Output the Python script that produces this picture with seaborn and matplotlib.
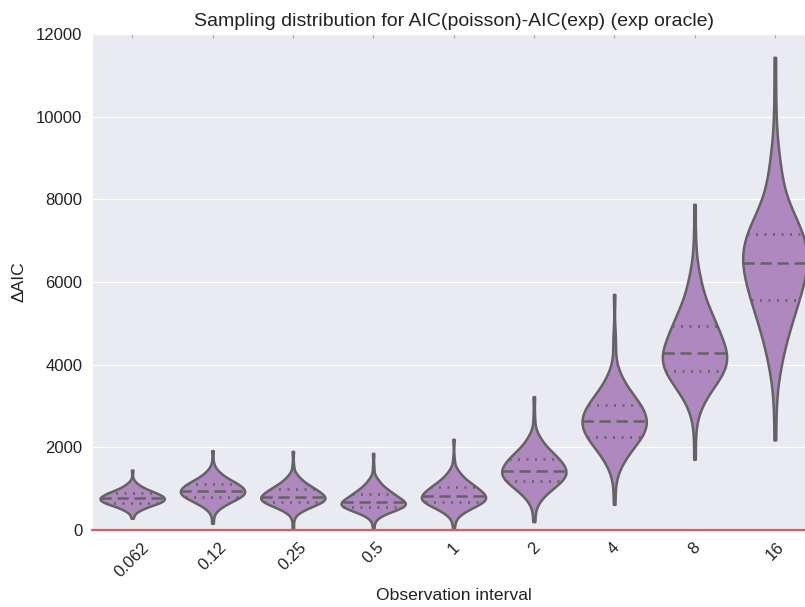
import numpy as np
import pandas as pd
import seaborn as sns
import matplotlib
matplotlib.use("Agg")
import matplotlib.pyplot as plt

# tick labels for the observation intervals
intervals = ['0.062', '0.12', '0.25', '0.5', '1', '2', '4', '8', '16']

# delta AIC: body values (5%, 10% ... 95%), each seen 5 times,
# plus single samples out in the tails (incl. min and max)
body_0062 = [492, 563, 604, 635, 661, 685, 707, 727, 747, 767,
             789, 812, 836, 860, 887, 917, 952, 998, 1087]
tail_0062 = [283, 400, 1200, 1452]
body_012 = [547, 649, 708, 753, 791, 825, 857, 887, 915, 944,
            976, 1008, 1041, 1076, 1113, 1155, 1204, 1270, 1396]
tail_012 = [161, 380, 1600, 1919]
body_025 = [472, 558, 607, 645, 677, 706, 732, 758, 782, 806,
            839, 873, 907, 944, 984, 1028, 1080, 1149, 1281]
tail_025 = [30, 300, 1550, 1903]
body_05 = [383, 459, 502, 536, 564, 589, 612, 635, 656, 677,
           713, 750, 788, 828, 871, 919, 975, 1051, 1195]
tail_05 = [40, 250, 1500, 1855]
body_1 = [424, 527, 586, 631, 669, 704, 735, 765, 794, 823,
          862, 902, 942, 986, 1033, 1086, 1146, 1229, 1385]
tail_1 = [50, 250, 1700, 2194]
body_2 = [787, 953, 1051, 1124, 1186, 1242, 1293, 1342, 1389, 1436,
          1490, 1545, 1602, 1661, 1726, 1798, 1882, 1995, 2210]
tail_2 = [202, 500, 2700, 3226]
body_4 = [1626, 1884, 2035, 2147, 2243, 2329, 2408, 2484, 2557, 2629,
          2704, 2781, 2860, 2943, 3033, 3133, 3250, 3408, 3707]
tail_4 = [621, 1200, 4400, 4700, 5700]
body_8 = [3140, 3436, 3607, 3737, 3847, 3946, 4037, 4124, 4207, 4290,
          4411, 4532, 4657, 4792, 4936, 5097, 5283, 5535, 6014]
tail_8 = [1710, 2500, 6500, 7000, 7880]
body_16 = [4123, 4726, 5074, 5340, 5565, 5766, 5952, 6129, 6299, 6468,
           6596, 6726, 6860, 7002, 7154, 7325, 7530, 7900, 8700]
tail_16 = [2178, 3200, 9300, 10200, 11437]

bodies = [body_0062, body_012, body_025, body_05, body_1, body_2, body_4, body_8, body_16]
tails = [tail_0062, tail_012, tail_025, tail_05, tail_1, tail_2, tail_4, tail_8, tail_16]

rows = []
for name, body, tail in zip(intervals, bodies, tails):
    for v in list(np.repeat(body, 5)) + tail:
        rows.append((name, v))
df = pd.DataFrame(rows, columns=['interval', 'daic'])

sns.set_style('darkgrid')
plt.rcParams['font.family'] = ['Liberation Sans', 'DejaVu Sans']

fig = plt.figure(figsize=(8.05, 6.07), dpi=100)
ax = fig.add_axes([92/805, 77/607, 723/805, 496/607])

sns.violinplot(ax=ax, data=df, x='interval', y='daic', order=intervals,
               color='#ae88be', saturation=1, linecolor='#636363', linewidth=1.8,
               inner='quart', cut=0, density_norm='width', width=0.8, bw_adjust=1.1)

# median dashed, quartiles dotted
for i, ln in enumerate(ax.lines):
    if i % 3 == 1:
        ln.set_dashes((4.5, 2.3))
    else:
        ln.set_dashes((0.8, 2.6))

ax.axhline(0, color='#e05a5c', lw=1.6, clip_on=False, zorder=5)

ax.set_ylim(0, 12000)
ax.set_xlim(-0.5, 8.5)
ax.xaxis.grid(False)
ax.tick_params(axis='both', labelsize=12, colors='#222222', pad=7)
ax.tick_params(axis='both', direction='in', length=3, color='#aaaaaa', top=True, right=True)
plt.setp(ax.get_xticklabels(), rotation=45)
ax.set_xlabel('Observation interval', fontsize=12.6, color='#222222', labelpad=6)
ax.set_ylabel('ΔAIC', fontsize=12.6, color='#222222', labelpad=7)
ax.set_title('Sampling distribution for AIC(poisson)-AIC(exp) (exp oracle)', fontsize=14, color='#222222')

fig.savefig('out.png', dpi=100)
